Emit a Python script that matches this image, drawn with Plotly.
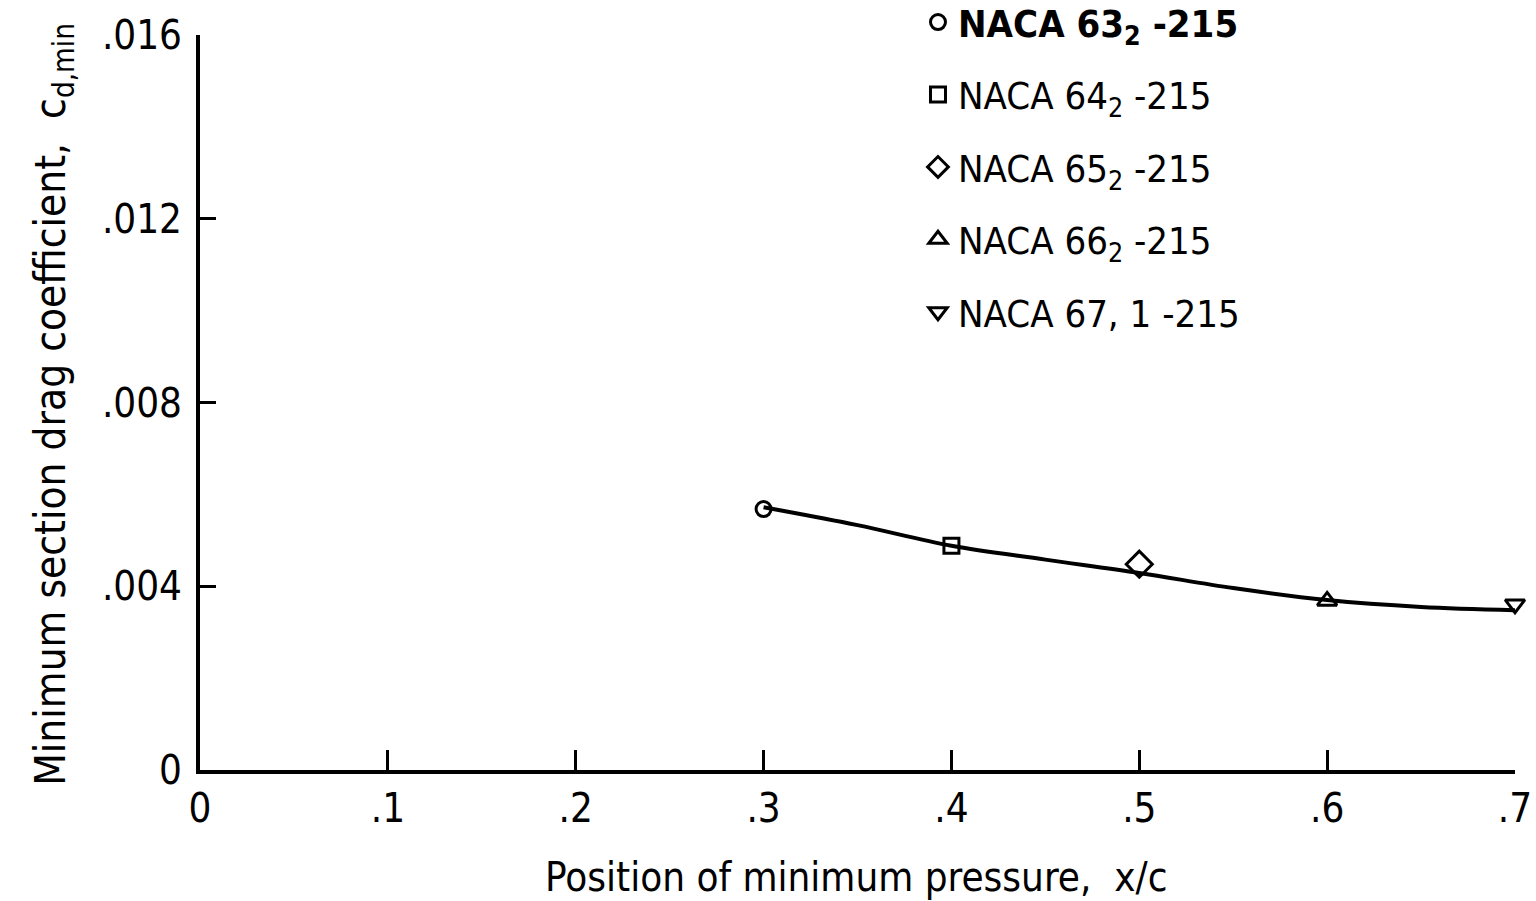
import plotly.graph_objects as go

# ---- data ----
airfoils = ["NACA 63<sub>2</sub> -215", "NACA 64<sub>2</sub> -215", "NACA 65<sub>2</sub> -215",
            "NACA 66<sub>2</sub> -215", "NACA 67, 1 -215"]
x_min_pressure = [0.3, 0.4, 0.5, 0.6, 0.7]
cd_min = [0.00568, 0.00488, 0.00448, 0.00368, 0.00361]
symbols = ["circle-open", "square-open", "diamond-open", "triangle-up-open", "triangle-down-open"]

curve_x = [0.3, 0.35, 0.4, 0.45, 0.5, 0.55, 0.6, 0.65, 0.7]
curve_y = [0.00572, 0.00533, 0.00488, 0.00458, 0.00429, 0.00396, 0.00370, 0.00355, 0.00348]

x_ticks = [0, 0.1, 0.2, 0.3, 0.4, 0.5, 0.6, 0.7]
x_ticktext = ["0", ".1", ".2", ".3", ".4", ".5", ".6", ".7"]
y_ticks = [0, 0.004, 0.008, 0.012, 0.016]
y_ticktext = ["0", ".004", ".008", ".012", ".016"]

FONT = "DejaVu Sans Condensed, Liberation Sans Narrow, sans-serif"

fig = go.Figure()
fig.add_trace(go.Scatter(x=curve_x, y=curve_y, mode="lines", line=dict(color="black", width=4, shape="spline"),
                         showlegend=False, hoverinfo="skip", cliponaxis=False))
sizes = [15, 15, 20, 17, 17]
for i, (name, xv, yv, sym) in enumerate(zip(airfoils, x_min_pressure, cd_min, symbols)):
    label = "<b>" + name + "</b>" if i == 0 else name
    fig.add_trace(go.Scatter(x=[xv], y=[yv], mode="markers", name=label, legendgroup=str(i),
                             marker=dict(symbol=sym, size=sizes[i], color="black",
                                         line=dict(color="black", width=3)),
                             cliponaxis=False))

axis_common = dict(showgrid=False, zeroline=False, showline=True, linecolor="black", linewidth=4,
                   ticks="inside", tickcolor="black", tickwidth=3, automargin=False,
                   tickfont=dict(family=FONT, size=40, color="black"))

fig.update_layout(
    width=1536, height=901,
    margin=dict(l=200, r=21, t=35, b=131, autoexpand=False),
    paper_bgcolor="white", plot_bgcolor="white",
    xaxis=dict(range=[0, 0.7], tickvals=x_ticks, ticktext=x_ticktext, ticklen=20, **axis_common),
    yaxis=dict(range=[0, 0.016], tickvals=y_ticks, ticktext=y_ticktext, ticklen=16,
               ticklabelstandoff=6, **axis_common),
    showlegend=True,
    legend=dict(x=0.546, y=1.06, xanchor="left", yanchor="top", bgcolor="rgba(0,0,0,0)",
                font=dict(family=FONT, size=38, color="black"), tracegroupgap=20, itemsizing="trace"),
    annotations=[
        dict(text="Minimum section drag coefficient,  c<sub>d,min</sub>", xref="paper", yref="paper",
             x=-0.111, y=0.497, textangle=-90, showarrow=False, xanchor="center", yanchor="middle",
             font=dict(family=FONT, size=42, color="black")),
        dict(text="Position of minimum pressure,  x/c", xref="paper", yref="paper",
             x=0.499, y=-0.146, showarrow=False, xanchor="center", yanchor="middle",
             font=dict(family=FONT, size=40, color="black")),
    ],
)

fig.write_html("out.html", config={"displayModeBar": False},
               post_script="document.body.style.margin='0';")
